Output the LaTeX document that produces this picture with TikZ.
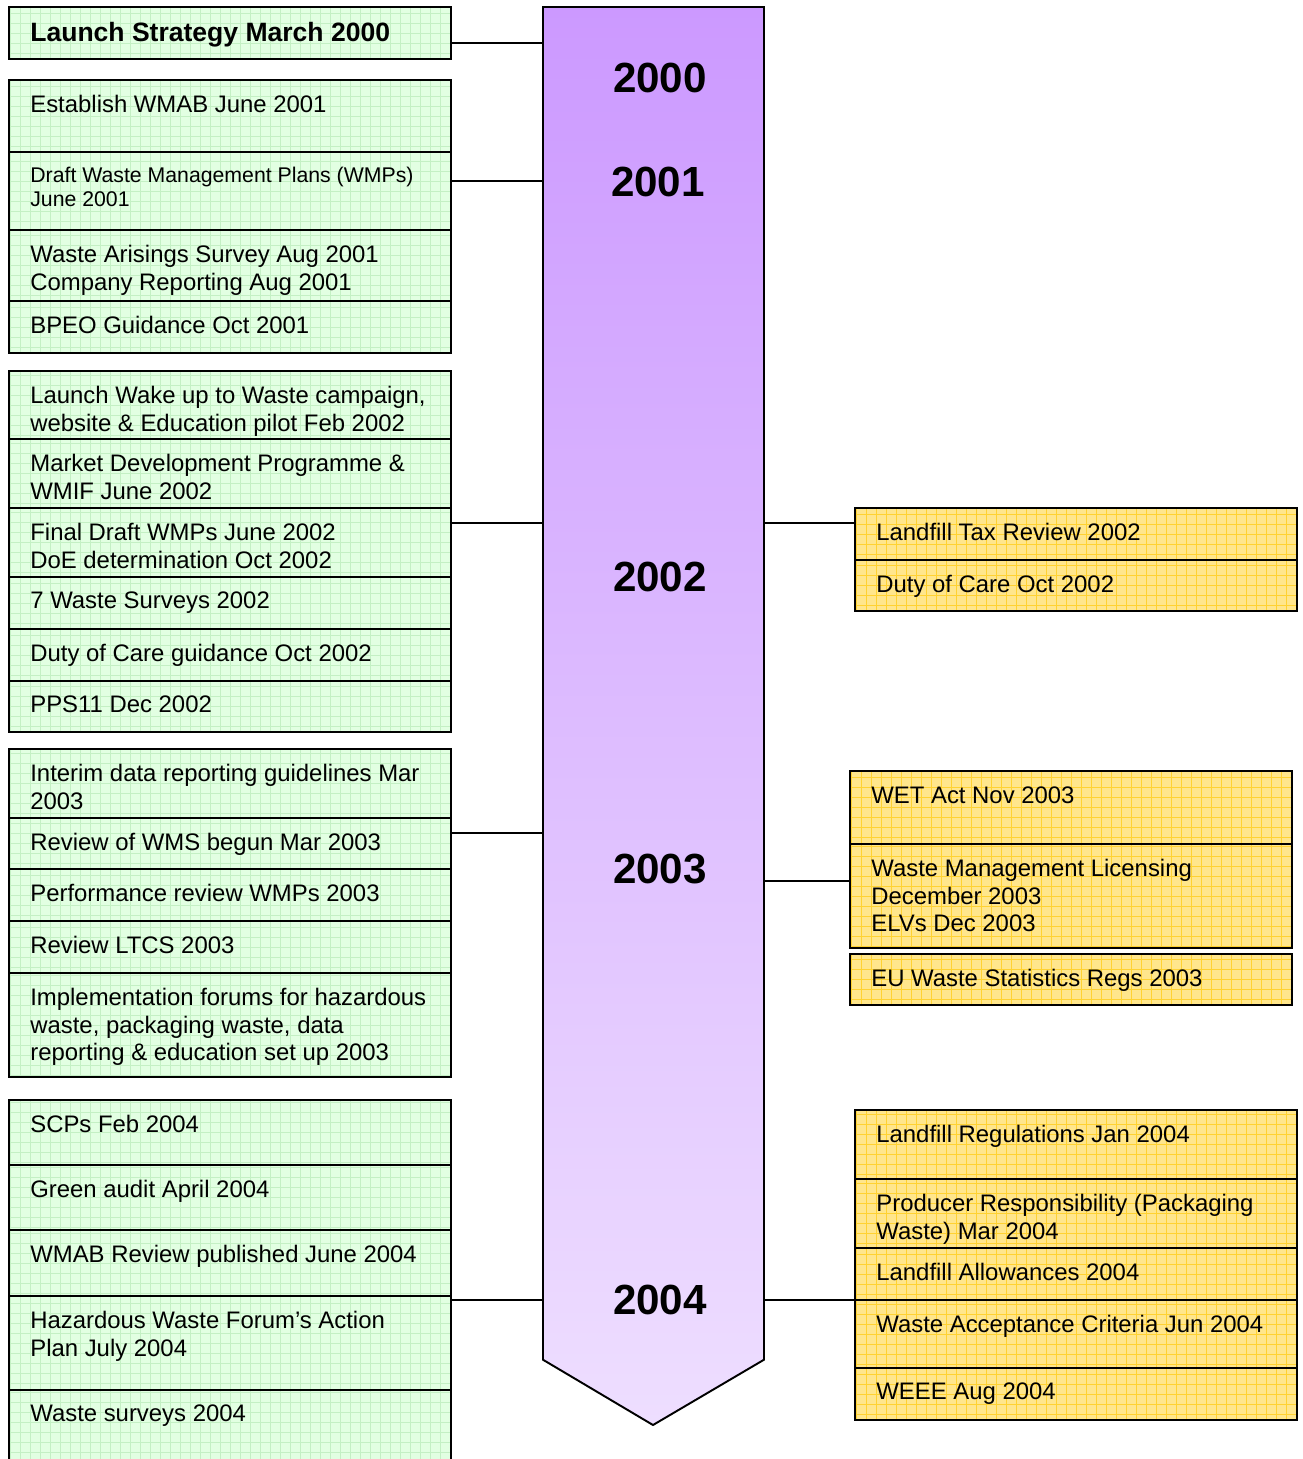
\documentclass[tikz,border=0pt]{standalone}
\usepackage{fontspec}
\setmainfont{Liberation Sans}
\definecolor{wsgreen}{RGB}{226,255,226}
\definecolor{wsgreengrid}{RGB}{196,240,196}
\definecolor{wsyellow}{RGB}{255,230,140}
\definecolor{wsyellowgrid}{RGB}{255,210,50}
\definecolor{spinetop}{RGB}{204,153,255}
\definecolor{spinebot}{RGB}{238,222,255}
\newcommand{\wssmall}{\fontsize{12.1pt}{13.6pt}\selectfont}
\newcommand{\wsbold}{\fontsize{15.1pt}{18pt}\selectfont\bfseries}
\newcommand{\wsyear}{\fontsize{24pt}{28pt}\selectfont\bfseries}

\begin{document}
\begin{tikzpicture}[
  x=0.02cm, y=-0.02cm,
  every node/.style={font=\fontsize{13.6pt}{15.6pt}\selectfont},
  gridfill/.style={path picture={\draw[#1,line width=0.3pt,step=0.2cm]
      (path picture bounding box.south west) grid (path picture bounding box.north east);}},
  entry/.style={draw,line width=1.1pt,anchor=north west,inner sep=0pt,outer sep=0pt,
                minimum width=8.84cm,minimum height=#1},
  gbox/.style={entry=#1,fill=wsgreen,gridfill=wsgreengrid},
  ybox/.style={entry=#1,fill=wsyellow,gridfill=wsyellowgrid},
  lbl/.style={anchor=north west,inner sep=0pt,align=left,xshift=0.42cm,yshift=-0.3cm},
  spinebox/.style={anchor=north west,inner sep=0pt,outer sep=0pt,minimum width=4.42cm,minimum height=27.06cm},
  yearlbl/.style={anchor=north,inner sep=0pt,font=\wsyear},
  link/.style={line width=0.8pt},
]
  \useasboundingbox (0,0) rectangle (1302,1459);

  % Timeline spine
  \node[spinebox] (spine) at (543,7) {};
  \coordinate (tip) at (653,1425);
  \shade[top color=spinetop,bottom color=spinebot,draw,line width=1.1pt]
    (spine.north west) -- (spine.north east) -- (spine.south east)
    -- (tip) -- (spine.south west) -- cycle;

  \node[yearlbl] (yr2000) at (660,63) {2000};
  \node[yearlbl] (yr2001) at (658,167) {2001};
  \node[yearlbl] (yr2002) at (660,562) {2002};
  \node[yearlbl] (yr2003) at (660,854) {2003};
  \node[yearlbl] (yr2004) at (660,1285) {2004};

  % 2000
  \node[gbox=1.04cm,label={[lbl,font=\wsbold]north west:Launch Strategy March 2000}]
    (launch) at (9,7) {};

  % 2001
  \node[gbox=1.44cm,label={[lbl]north west:Establish WMAB June 2001}] (wmab) at (9,80) {};
  \node[gbox=1.56cm,label={[lbl,font=\wssmall]north west:Draft Waste Management Plans (WMPs)\\June 2001}]
    (draftwmp) at (wmab.south west) {};
  \node[gbox=1.42cm,label={[lbl]north west:Waste Arisings Survey Aug 2001\\Company Reporting Aug 2001}]
    (arisings) at (draftwmp.south west) {};
  \node[gbox=1.04cm,label={[lbl]north west:BPEO Guidance Oct 2001}] (bpeo) at (arisings.south west) {};

  % 2002
  \node[gbox=1.36cm,label={[lbl]north west:Launch Wake up to Waste campaign,\\website \& Education pilot Feb 2002}]
    (wakeup) at (9,371) {};
  \node[gbox=1.38cm,label={[lbl]north west:Market Development Programme \&\\WMIF June 2002}]
    (marketdev) at (wakeup.south west) {};
  \node[gbox=1.38cm,label={[lbl]north west:Final Draft WMPs June 2002\\DoE determination Oct 2002}]
    (finaldraft) at (marketdev.south west) {};
  \node[gbox=1.04cm,label={[lbl]north west:7 Waste Surveys 2002}] (surveys02) at (finaldraft.south west) {};
  \node[gbox=1.04cm,label={[lbl]north west:Duty of Care guidance Oct 2002}] (dutyguide) at (surveys02.south west) {};
  \node[gbox=1.02cm,label={[lbl]north west:PPS11 Dec 2002}] (pps) at (dutyguide.south west) {};

  \node[ybox=1.04cm,label={[lbl]north west:Landfill Tax Review 2002}] (taxreview) at (855,508) {};
  \node[ybox=1.02cm,label={[lbl]north west:Duty of Care Oct 2002}] (dutycare) at (taxreview.south west) {};

  % 2003
  \node[gbox=1.38cm,label={[lbl]north west:Interim data reporting guidelines Mar\\2003}]
    (interim) at (9,749) {};
  \node[gbox=1.02cm,label={[lbl]north west:Review of WMS begun Mar 2003}] (reviewwms) at (interim.south west) {};
  \node[gbox=1.04cm,label={[lbl]north west:Performance review WMPs 2003}] (perfwmp) at (reviewwms.south west) {};
  \node[gbox=1.04cm,label={[lbl]north west:Review LTCS 2003}] (ltcs) at (perfwmp.south west) {};
  \node[gbox=2.08cm,label={[lbl]north west:Implementation forums for hazardous\\waste, packaging waste, data\\reporting \& education set up 2003}]
    (forums) at (ltcs.south west) {};

  \node[ybox=1.46cm,label={[lbl]north west:WET Act Nov 2003}] (wetact) at (850,771) {};
  \node[ybox=2.08cm,label={[lbl]north west:Waste Management Licensing\\December 2003\\ELVs Dec 2003}]
    (wml) at (wetact.south west) {};
  \node[ybox=1.02cm,label={[lbl]north west:EU Waste Statistics Regs 2003}] (euregs) at (850,954) {};

  % 2004
  \node[gbox=1.30cm,label={[lbl]north west:SCPs Feb 2004}] (scps) at (9,1100) {};
  \node[gbox=1.30cm,label={[lbl]north west:Green audit April 2004}] (greenaudit) at (scps.south west) {};
  \node[gbox=1.32cm,label={[lbl]north west:WMAB Review published June 2004}] (wmabreview) at (greenaudit.south west) {};
  \node[gbox=1.88cm,label={[lbl]north west:Hazardous Waste Forum’s Action\\Plan July 2004}]
    (hazforum) at (wmabreview.south west) {};
  \node[gbox=1.70cm,label={[lbl]north west:Waste surveys 2004}] (surveys04) at (hazforum.south west) {};

  \node[ybox=1.38cm,label={[lbl]north west:Landfill Regulations Jan 2004}] (landfillregs) at (855,1110) {};
  \node[ybox=1.38cm,label={[lbl]north west:Producer Responsibility (Packaging\\Waste) Mar 2004}]
    (producer) at (landfillregs.south west) {};
  \node[ybox=1.04cm,label={[lbl]north west:Landfill Allowances 2004}] (allowances) at (producer.south west) {};
  \node[ybox=1.36cm,label={[lbl]north west:Waste Acceptance Criteria Jun 2004}] (wac) at (allowances.south west) {};
  \node[ybox=1.04cm,label={[lbl]north west:WEEE Aug 2004}] (weee) at (wac.south west) {};

  % Connectors
  \coordinate (lv2000) at (0,43);
  \coordinate (lv2001) at (0,181);
  \coordinate (lv2002) at (0,523);
  \coordinate (lv2003) at (0,833);
  \coordinate (lv2003r) at (0,881);
  \coordinate (lv2004) at (0,1300);
  \draw[link] (launch.east |- lv2000) -- (spine.west |- lv2000);
  \draw[link] (draftwmp.east |- lv2001) -- (spine.west |- lv2001);
  \draw[link] (finaldraft.east |- lv2002) -- (spine.west |- lv2002);
  \draw[link] (spine.east |- lv2002) -- (taxreview.west |- lv2002);
  \draw[link] (reviewwms.east |- lv2003) -- (spine.west |- lv2003);
  \draw[link] (spine.east |- lv2003r) -- (wml.west |- lv2003r);
  \draw[link] (hazforum.east |- lv2004) -- (spine.west |- lv2004);
  \draw[link] (spine.east |- lv2004) -- (wac.west |- lv2004);
\end{tikzpicture}
\end{document}
